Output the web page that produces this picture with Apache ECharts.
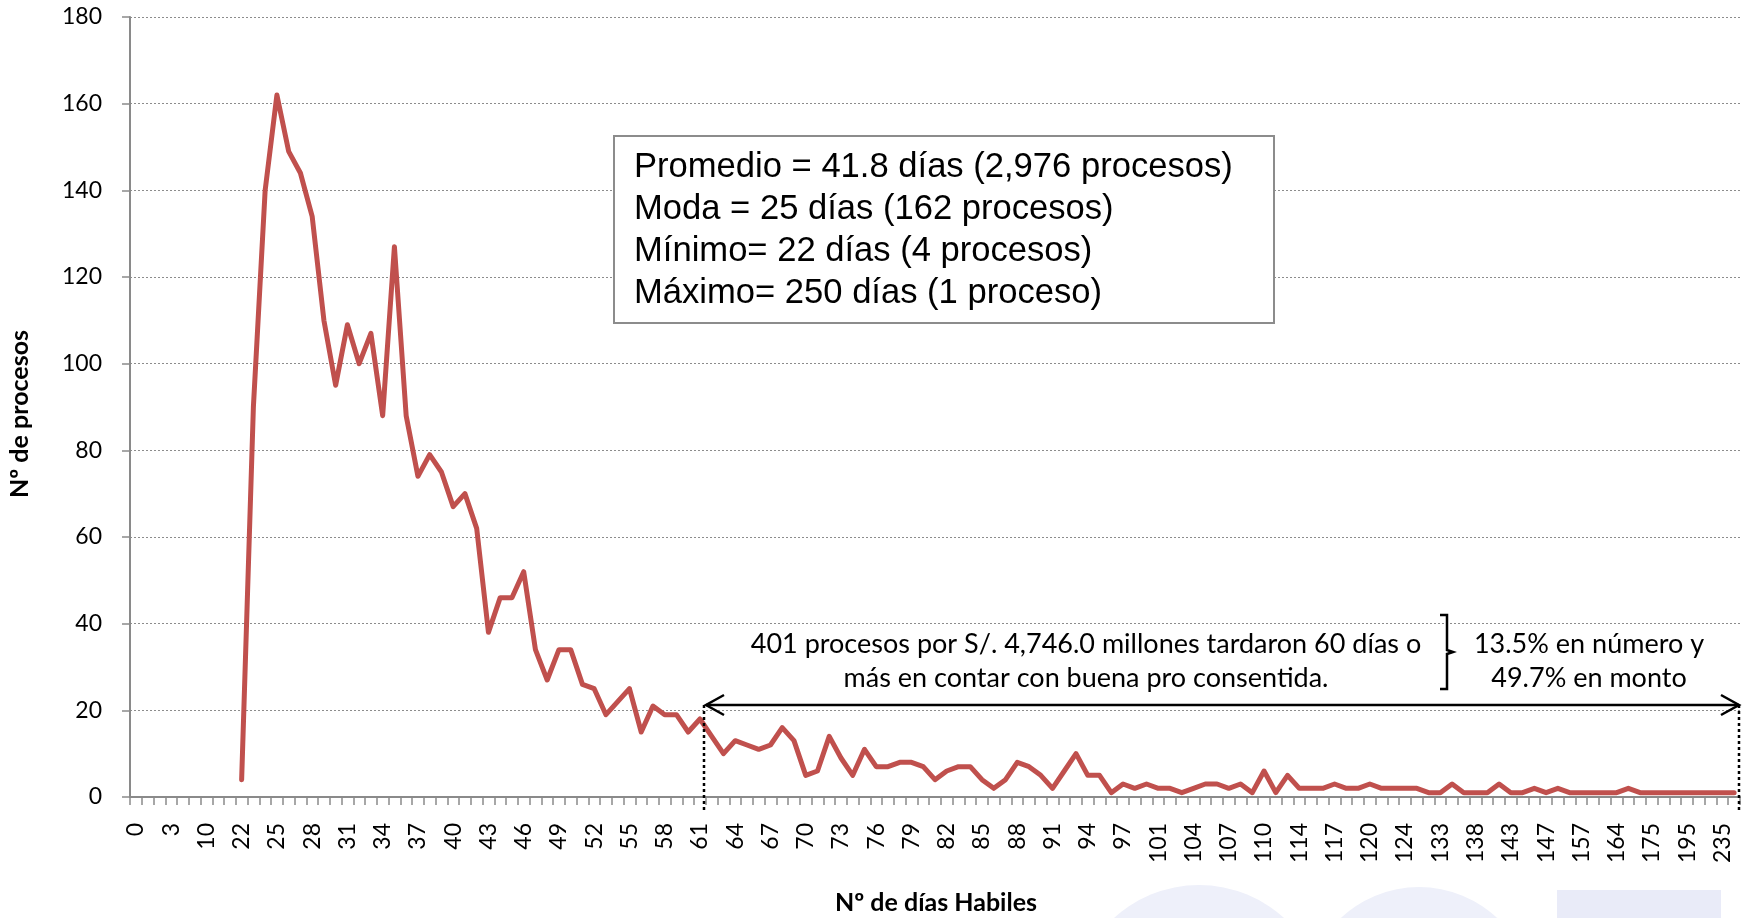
<!DOCTYPE html>
<html>
<head>
<meta charset="utf-8">
<script src="https://cdn.jsdelivr.net/npm/echarts@6/dist/echarts.min.js"></script>
<style>
  html, body { margin: 0; padding: 0; background: #fff; }
  #chart { width: 1743px; height: 918px; }
</style>
</head>
<body>
<div id="chart"></div>
<script>
// Nº de días hábiles (categorías del eje X)
var dias = [
    '0', '1', '2', '3', '5', '7', '10', '15', '20',
    '22', '23', '24', '25', '26', '27', '28', '29', '30', '31', '32', '33',
    '34', '35', '36', '37', '38', '39', '40', '41', '42', '43', '44', '45', '46',
    '47', '48', '49', '50', '51', '52', '53', '54', '55', '56', '57', '58', '59', '60', '61',
    '62', '63', '64', '65', '66', '67', '68', '69', '70', '71', '72', '73',
    '74', '75', '76', '77', '78', '79', '80', '81', '82', '83', '84', '85',
    '86', '87', '88', '89', '90', '91', '92', '93', '94', '95', '96', '97',
    '98', '100',
    '101', '102', '103', '104', '105', '106', '107', '108', '109', '110',
    '112', '113',
    '114', '115', '116', '117', '118', '119', '120',
    '122', '123', '124', '126', '130', '133', '134', '136', '138', '140', '141',
    '143', '144', '145', '147', '150', '154', '157', '160', '162', '164',
    '168', '170', '175', '180', '187', '195', '205', '220', '235', '250'
];

// Nº de procesos por cada categoría
var procesos = [
    null, null, null, null, null, null, null, null, null,
    4, 90, 140, 162, 149, 144, 134, 110, 95, 109, 100, 107,
    88, 127, 88, 74, 79, 75, 67, 70, 62, 38, 46, 46, 52,
    34, 27, 34, 34, 26, 25, 19, 22, 25, 15, 21, 19, 19, 15, 18,
    14, 10, 13, 12, 11, 12, 16, 13, 5, 6, 14, 9,
    5, 11, 7, 7, 8, 8, 7, 4, 6, 7, 7, 4,
    2, 4, 8, 7, 5, 2, 6, 10, 5, 5, 1, 3,
    2, 3,
    2, 2, 1, 2, 3, 3, 2, 3, 1, 6,
    1, 5,
    2, 2, 2, 3, 2, 2, 3,
    2, 2, 2, 2, 1, 1, 3, 1, 1, 1, 3,
    1, 1, 2, 1, 2, 1, 1, 1, 1, 1,
    2, 1, 1, 1, 1, 1, 1, 1, 1, 1
];

var yMin = 0;
var yMax = 180;
var yStep = 20;

var resumen = [
    'Promedio = 41.8 días (2,976 procesos)',
    'Moda = 25 días (162 procesos)',
    'Mínimo= 22 días (4 procesos)',
    'Máximo= 250 días (1 proceso)'
];

var fontCal = 'Lato, Carlito, "Open Sans", sans-serif';
var fontArial = '"Liberation Sans", Arial, sans-serif';

var chartDom = document.getElementById('chart');
var myChart = echarts.init(chartDom, null, { renderer: 'canvas' });

function texto(x, y, t, font, align) {
    return {
        type: 'text', z: 50, x: x, y: y,
        style: { text: t, font: font, fill: '#000',
                 align: align || 'center', verticalAlign: 'middle',
                 textAlign: align || 'center', textVerticalAlign: 'middle' }
    };
}

var graphics = [
    // marca de agua de fondo
    { type: 'circle', z: -10, shape: { cx: 1199, cy: 1011, r: 126 }, style: { fill: '#eef0fa' }, silent: true },
    { type: 'circle', z: -10, shape: { cx: 1419, cy: 1001, r: 114 }, style: { fill: '#eef0fa' }, silent: true },
    { type: 'rect', z: -10, shape: { x: 1557, y: 890, width: 164, height: 40 }, style: { fill: '#e9ebf8' }, silent: true },

    // cuadro de resumen
    { type: 'rect', z: 50, shape: { x: 614, y: 136, width: 660, height: 187 },
      style: { fill: '#ffffff', stroke: '#8c8c8c', lineWidth: 2 } },

    // nota de procesos de 60 días o más
    texto(1086, 644, '401 procesos por S/. 4,746.0 millones tardaron 60 días o', '27px ' + fontCal),
    texto(1086, 678, 'más en contar con buena pro consentida.', '27px ' + fontCal),
    texto(1589, 644, '13.5% en número y', '27px ' + fontCal),
    texto(1589, 678, '49.7% en monto', '27px ' + fontCal),

    // titulo eje X
    texto(936, 903, 'Nº de días Habiles', 'bold 25px ' + fontCal),

    // llave
    { type: 'polyline', z: 50,
      shape: { points: [[1440, 615], [1447, 615], [1447, 650], [1453, 652], [1447, 654], [1447, 689], [1440, 689]] },
      style: { stroke: '#000', lineWidth: 2.5, fill: null } },

    // flecha doble
    { type: 'line', z: 50, shape: { x1: 706, y1: 705, x2: 1739, y2: 705 }, style: { stroke: '#000', lineWidth: 2.5 } },
    { type: 'polyline', z: 50, shape: { points: [[724, 695], [706, 705], [724, 715]] }, style: { stroke: '#000', lineWidth: 2.5, fill: null } },
    { type: 'polyline', z: 50, shape: { points: [[1721, 695], [1739, 705], [1721, 715]] }, style: { stroke: '#000', lineWidth: 2.5, fill: null } },

    // lineas punteadas verticales
    { type: 'line', z: 50, shape: { x1: 704, y1: 705, x2: 704, y2: 810 }, style: { stroke: '#000', lineWidth: 2.5, lineDash: [3, 3] } },
    { type: 'line', z: 50, shape: { x1: 1739, y1: 705, x2: 1739, y2: 810 }, style: { stroke: '#000', lineWidth: 2.5, lineDash: [3, 3] } }
];

// titulo eje Y (rotado)
var tituloY = texto(20, 414, 'Nº de procesos', 'bold 25px ' + fontCal);
tituloY.rotation = Math.PI / 2;
graphics.push(tituloY);

resumen.forEach(function (t, i) {
    var el = texto(634, 167 + i * 42, t, '34.6px ' + fontArial, 'left');
    el.z = 51;
    graphics.push(el);
});

var option = {
    animation: false,
    backgroundColor: '#ffffff',
    grid: {
        left: 130,
        right: 3,
        top: 17,
        bottom: 121,
        containLabel: false
    },
    xAxis: {
        type: 'category',
        data: dias,
        boundaryGap: true,
        axisLine: { lineStyle: { color: '#8a8a8a', width: 2 } },
        axisTick: { show: true, interval: 0, length: 8, lineStyle: { color: '#8a8a8a', width: 1.5 } },
        axisLabel: {
            interval: 2,
            rotate: 90,
            margin: 26,
            color: '#000',
            fontSize: 23,
            fontFamily: fontCal
        },
        splitLine: { show: false }
    },
    yAxis: {
        type: 'value',
        min: yMin,
        max: yMax,
        interval: yStep,
        axisLine: { show: true, lineStyle: { color: '#8a8a8a', width: 2 } },
        axisTick: { show: true, length: 8, lineStyle: { color: '#8a8a8a', width: 1.5 } },
        axisLabel: {
            margin: 28,
            color: '#000',
            fontSize: 23,
            fontFamily: fontCal
        },
        splitLine: { show: true, lineStyle: { color: '#8c8c8c', width: 1, type: [2, 2] } }
    },
    series: [
        {
            name: 'Nº de procesos',
            type: 'line',
            data: procesos,
            showSymbol: false,
            symbol: 'none',
            connectNulls: false,
            lineStyle: { color: '#c0504d', width: 5, join: 'round', cap: 'round' },
            itemStyle: { color: '#c0504d' }
        }
    ],
    graphic: graphics
};

myChart.setOption(option);
</script>
</body>
</html>
